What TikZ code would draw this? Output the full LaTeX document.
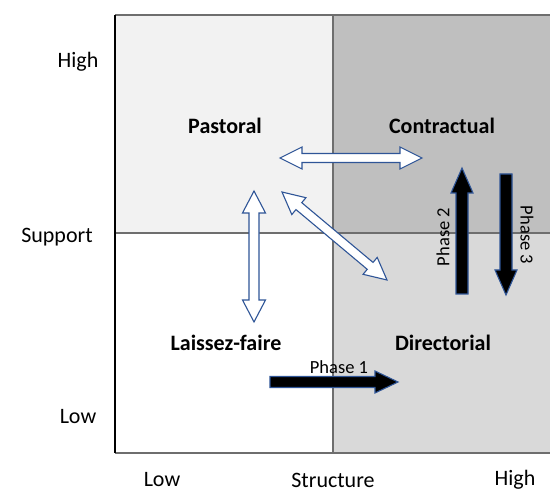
\documentclass[tikz,border=0pt]{standalone}
\usepackage{fontspec}
\setmainfont{Carlito}
\usetikzlibrary{calc}
\definecolor{tlfill}{HTML}{F2F2F2}
\definecolor{trfill}{HTML}{BFBFBF}
\definecolor{brfill}{HTML}{D9D9D9}
\definecolor{gridline}{HTML}{6E6E6E}
\definecolor{arrowedge}{HTML}{2F5597}
\tikzset{
  axislabel/.style={font=\fontsize{22}{26}\selectfont, inner sep=0pt},
  quadlabel/.style={font=\fontsize{22}{26}\selectfont\bfseries, inner sep=0pt},
  phaselabel/.style={font=\fontsize{18.5}{22}\selectfont, inner sep=0pt},
  hollowarrow/.style={draw=arrowedge, fill=white, line width=1.1pt, line join=miter},
  solidarrow/.style={draw=arrowedge, fill=black, line width=1.1pt, line join=miter},
  gridstroke/.style={draw=gridline, line width=1.3pt}
}
% #1 style, #2 end A, #3 end B, #4 half shaft, #5 half head, #6 head length, #7 prefix
\newcommand\mydoublearrow[7]{%
  \coordinate (#7h1) at ($(#2)!#6!(#3)$);
  \coordinate (#7h2) at ($(#3)!#6!(#2)$);
  \path[#1] (#2) -- ($(#7h1)!#5!-90:(#2)$) -- ($(#7h1)!#4!-90:(#2)$)
    -- ($(#7h2)!#4!90:(#3)$) -- ($(#7h2)!#5!90:(#3)$) -- (#3)
    -- ($(#7h2)!#5!-90:(#3)$) -- ($(#7h2)!#4!-90:(#3)$)
    -- ($(#7h1)!#4!90:(#2)$) -- ($(#7h1)!#5!90:(#2)$) -- cycle;
}
% #1 style, #2 tail, #3 tip, #4 half shaft, #5 half head, #6 head length, #7 prefix
\newcommand\mysinglearrow[7]{%
  \coordinate (#7h2) at ($(#3)!#6!(#2)$);
  \path[#1] ($(#2)!#4!90:(#3)$) -- ($(#7h2)!#4!90:(#3)$) -- ($(#7h2)!#5!90:(#3)$)
    -- (#3) -- ($(#7h2)!#5!-90:(#3)$) -- ($(#7h2)!#4!-90:(#3)$)
    -- ($(#2)!#4!-90:(#3)$) -- cycle;
}
\begin{document}
\begin{tikzpicture}[x=1pt, y=-1pt]
\useasboundingbox (0,0) rectangle (550,489);
% quadrants
\fill[tlfill] (115,15) rectangle (333,233);
\fill[trfill] (333,15) rectangle (550,233);
\fill[white] (115,233) rectangle (333,453);
\fill[brfill] (333,233) rectangle (550,453);
\draw[gridstroke] (115,15) -- (550,15);
\draw[gridstroke] (115,453) -- (550,453);
\draw[gridstroke] (115,233) -- (550,233);
\draw[gridstroke] (333,15) -- (333,453);
\draw[black, line width=1.3pt] (115,15) -- (115,453);
% axis labels
\node[axislabel] (yhigh) at (78,62) {High};
\node[axislabel] (ysup) at (57,237) {Support};
\node[axislabel] (ylow) at (78,417) {Low};
\node[axislabel] (xlow) at (162,480) {Low};
\node[axislabel] (xstr) at (333,480) {Structure};
\node[axislabel] (xhigh) at (515,480) {High};
% quadrant labels
\node[quadlabel] (past) at (225,126) {Pastoral};
\node[quadlabel] (contr) at (442,126) {Contractual};
\node[quadlabel] (laiss) at (226,343) {Laissez-faire};
\node[quadlabel] (direc) at (443,343) {Directorial};
% hollow double arrows
\coordinate (hA) at (280,158); \coordinate (hB) at (422,158);
\mydoublearrow{hollowarrow}{hA}{hB}{4.5pt}{11pt}{22pt}{ha}
\coordinate (dA) at (282,192); \coordinate (dB) at (387,280);
\mydoublearrow{hollowarrow}{dA}{dB}{4.5pt}{11pt}{22pt}{da}
\coordinate (vA) at (254,191); \coordinate (vB) at (254,322);
\mydoublearrow{hollowarrow}{vA}{vB}{5pt}{11.5pt}{22pt}{va}
% phase arrows
\coordinate (p1A) at (270,382); \coordinate (p1B) at (398,382);
\mysinglearrow{solidarrow}{p1A}{p1B}{5.5pt}{11pt}{23pt}{pa}
\coordinate (p2A) at (462,294); \coordinate (p2B) at (462,168);
\mysinglearrow{solidarrow}{p2A}{p2B}{6pt}{11pt}{25pt}{pb}
\coordinate (p3A) at (506,174); \coordinate (p3B) at (506,295);
\mysinglearrow{solidarrow}{p3A}{p3B}{6pt}{11pt}{25pt}{pc}
% phase labels
\node[phaselabel] (ph1) at (339,367) {Phase 1};
\node[phaselabel, rotate=90] (ph2) at (443,237) {Phase 2};
\node[phaselabel, rotate=-90] (ph3) at (527,235) {Phase 3};
\end{tikzpicture}
\end{document}
